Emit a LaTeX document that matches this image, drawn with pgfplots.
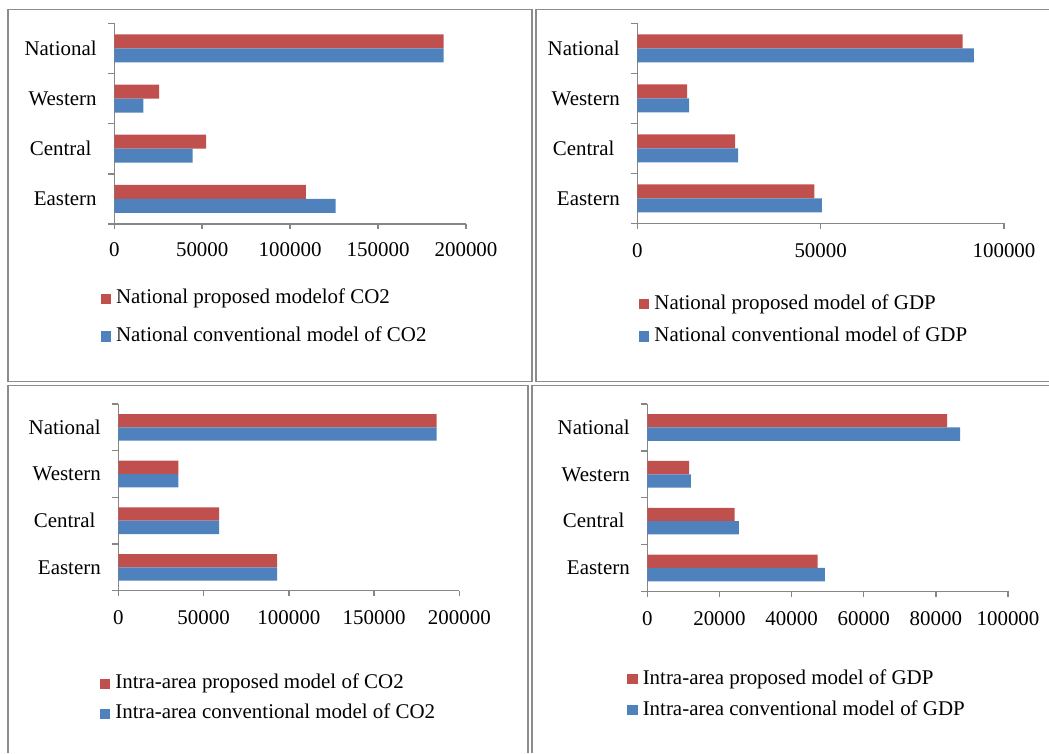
\documentclass[border=0pt]{standalone}
\usepackage{fontspec}
\setmainfont{Liberation Serif}
\usepackage{pgfplots}
\pgfplotsset{compat=1.18}
\definecolor{cred}{HTML}{C0504D}
\definecolor{cblue}{HTML}{4F81BD}
\definecolor{axgray}{HTML}{868686}
\definecolor{boxgray}{HTML}{8C8C8C}
\newcommand\lbl{\fontsize{15.7}{18}\selectfont}
\pgfplotsset{
  panel/.style={
    scale only axis, anchor=south west,
    xbar, xmin=0, ymin=-0.5, ymax=3.5,
    axis lines*=left,
    axis line style={draw=axgray, line width=1.1pt},
    ytick={0,1,2,3},
    yticklabels={Eastern,Central\kern0.25em,Western,National},
    minor ytick={-0.5,0.5,1.5,2.5,3.5},
    tick align=outside, major tick length=4pt, minor tick length=5pt,
    tick style={draw=axgray, line width=1.1pt},
    major y tick style={draw=none},
    scaled x ticks=false,
    /pgf/number format/assume math mode=true,
    /pgf/number format/fixed,
    /pgf/number format/1000 sep={},
    xticklabel style={font=\lbl, anchor=north, inner sep=0pt, text height=10.6pt},
    yticklabel style={font=\lbl, anchor=east, inner sep=0pt, text height=10.3pt, text depth=0pt},
    legend style={draw=none, fill=none, inner sep=0pt, outer sep=0pt, font=\lbl,
      anchor=north west, legend cell align=left,
      nodes={inner sep=0pt, text height=10pt, text depth=3pt},
      /tikz/every odd column/.style={column sep=3.75pt}},
    legend image code/.code={\fill[##1,draw=none] (0pt,-3.5pt) rectangle (7.8pt,4.3pt);},
  },
  rbar/.style={fill=cred, draw=none},
  bbar/.style={fill=cblue, draw=none},
}
\begin{document}
\begin{tikzpicture}
\useasboundingbox (0,0) rectangle (786.75pt,564.75pt);
% panel borders
\draw[boxgray, line width=1.1pt] (786.75pt,557.6pt) -- (402pt,557.6pt) -- (402pt,278.5pt) -- (786.75pt,278.5pt);
\draw[boxgray, line width=1.1pt] (399pt,557.6pt) -- (6pt,557.6pt) -- (6pt,278.5pt) -- (399pt,278.5pt) -- cycle;
\draw[boxgray, line width=1.1pt] (6pt,0pt) -- (6pt,275.5pt) -- (396pt,275.5pt) -- (396pt,0pt);
\draw[boxgray, line width=1.1pt] (399pt,0pt) -- (399pt,275.5pt) -- (786.75pt,275.5pt);

% Panel 1
\begin{axis}[panel, at={(85.7pt,396.75pt)}, width=263.8pt, height=150.5pt,
  xmax=200000, xtick={0,50000,100000,150000,200000},
  bar width=10.5pt,
  xticklabel style={yshift=-9.5pt}, yticklabel style={xshift=-9pt},
  legend style={at={(-0.0387,-0.332)}, row sep=15.3pt}]
\addplot[rbar, bar shift=5.25pt] coordinates {(109000,0) (52300,1) (25500,2) (187300,3)};
\addplot[bbar, bar shift=-5.25pt] coordinates {(125900,0) (44600,1) (16500,2) (187300,3)};
\legend{National proposed modelof CO2, National conventional model of CO2}
\end{axis}

% Panel 2
\begin{axis}[panel, at={(478pt,397.25pt)}, width=275pt, height=150pt,
  xmax=100000, xtick={0,50000,100000},
  bar width=10.5pt,
  xticklabel style={yshift=-10.5pt}, yticklabel style={xshift=-9pt},
  legend style={at={(0.0046,-0.3635)}, row sep=11.3pt}]
\addplot[rbar, bar shift=5.25pt] coordinates {(48300,0) (26700,1) (13600,2) (88700,3)};
\addplot[bbar, bar shift=-5.25pt] coordinates {(50300,0) (27500,1) (14100,2) (91800,3)};
\legend{National proposed model of GDP, National conventional model of GDP}
\end{axis}

% Panel 3
\begin{axis}[panel, at={(88.75pt,121.7pt)}, width=255.75pt, height=140pt,
  xmax=200000, xtick={0,50000,100000,150000,200000},
  bar width=10pt,
  xticklabel style={yshift=-10.5pt}, yticklabel style={xshift=-9pt},
  legend style={at={(-0.0537,-0.455)}, row sep=9.5pt}]
\addplot[rbar, bar shift=5pt] coordinates {(93100,0) (59100,1) (35200,2) (186700,3)};
\addplot[bbar, bar shift=-5pt] coordinates {(93100,0) (59100,1) (35200,2) (186700,3)};
\legend{Intra-area proposed model of CO2, Intra-area conventional model of CO2}
\end{axis}

% Panel 4
\begin{axis}[panel, at={(485.5pt,121.25pt)}, width=270.5pt, height=140.5pt,
  xmax=100000, xtick={0,20000,40000,60000,80000,100000},
  bar width=10pt,
  xticklabel style={yshift=-10.5pt}, yticklabel style={xshift=-9pt},
  legend style={at={(-0.0554,-0.424)}, row sep=10.25pt}]
\addplot[rbar, bar shift=5pt] coordinates {(47200,0) (24200,1) (11600,2) (83100,3)};
\addplot[bbar, bar shift=-5pt] coordinates {(49200,0) (25400,1) (12100,2) (86700,3)};
\legend{Intra-area proposed model of GDP, Intra-area conventional model of GDP}
\end{axis}
\end{tikzpicture}
\end{document}
